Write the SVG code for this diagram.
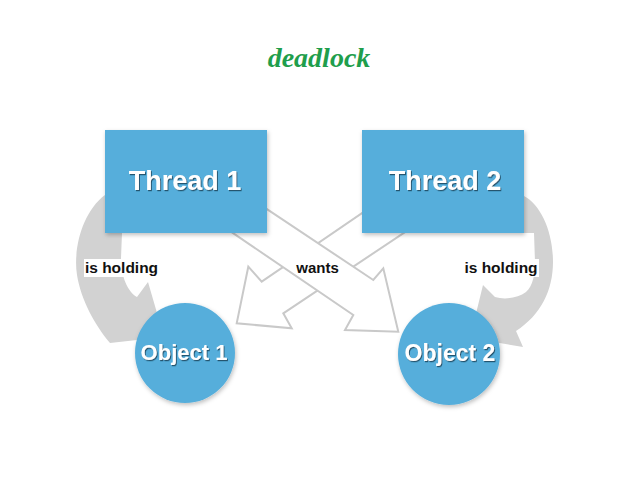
<svg xmlns="http://www.w3.org/2000/svg" width="638" height="479" viewBox="0 0 638 479">
  <style>
    .box { fill: #56AEDB; }
    .obj { fill: #56AEDB; }
    .ntext { font-family: "Liberation Sans", Arial, sans-serif; font-weight: bold; fill: #ffffff; text-anchor: middle; }
    .hold { fill: #D2D2D2; }
    .want { fill: #ffffff; stroke: #C9C9C9; stroke-width: 2; stroke-linejoin: miter; }
    .lbl { font-family: "Liberation Sans", Arial, sans-serif; font-weight: bold; fill: #111111; font-size: 15.5px; text-anchor: middle; }
    .title { font-family: "Liberation Serif", "Times New Roman", serif; font-style: italic; font-weight: bold; font-size: 28px; fill: #1F9E4C; text-anchor: middle; }
  </style>
  <defs>
    <filter id="shadow" x="-20%" y="-20%" width="140%" height="140%">
      <feDropShadow dx="1" dy="2" stdDeviation="2" flood-color="#000000" flood-opacity="0.25"/>
    </filter>
    <filter id="tshadow" x="-10%" y="-20%" width="120%" height="150%">
      <feDropShadow dx="1" dy="1.2" stdDeviation="0.6" flood-color="#1d3e55" flood-opacity="0.8"/>
    </filter>
  </defs>
  <rect width="638" height="479" fill="#ffffff"/>

  <text class="title" x="319" y="67">deadlock</text>

  <g id="connectors">
    <!-- is holding (left) -->
    <path id="hold1" class="hold" d="M 105,195 C 82,212 73,250 77,275 C 81,300 95,325 110,343 L 164,337 L 148,282 L 137,297 C 128,292 121,277 121,258 L 122,233 L 105,233 Z"/>
    <!-- is holding (right) -->
    <path id="hold2" class="hold" d="M 524,196 C 541,205 553,232 553,262 C 553,290 541,315 516,331 L 523,347 L 470,338 L 483,285 L 495,297 C 505,300 518,298 526,292 C 533,286 535,274 535,262 L 534,233 L 524,233 Z"/>
    <!-- Thread 2 wants Object 1 -->
    <polygon id="want2" class="want" points="400,187.1 261.7,281.7 248.3,266.7 236.7,323.3 291.7,328.3 283.3,313.3 440,208.8"/>
    <!-- Thread 1 wants Object 2 -->
    <polygon id="want1" class="want" points="230,184.5 373.3,280 383.3,268.3 398.3,331.7 345,330 353.3,315 200,210.6"/>
    <rect x="84" y="259" width="76" height="18" fill="#ffffff"/>
    <text class="lbl" x="121.5" y="273">is holding</text>
    <rect x="463" y="259" width="76" height="18" fill="#ffffff"/>
    <text class="lbl" x="501" y="273">is holding</text>
    <text class="lbl" x="317.5" y="273" style="font-size:15px">wants</text>
  </g>

  <g id="node-thread1">
    <rect class="box" x="105" y="130" width="162" height="103" filter="url(#shadow)"/>
    <text class="ntext" x="185" y="190" font-size="27" filter="url(#tshadow)">Thread 1</text>
  </g>
  <g id="node-thread2">
    <rect class="box" x="362" y="130" width="162" height="103" filter="url(#shadow)"/>
    <text class="ntext" x="445" y="190" font-size="27" filter="url(#tshadow)">Thread 2</text>
  </g>
  <g id="node-object1">
    <circle class="obj" cx="185" cy="353" r="50" filter="url(#shadow)"/>
    <text class="ntext" x="184" y="360" font-size="22" filter="url(#tshadow)">Object 1</text>
  </g>
  <g id="node-object2">
    <circle class="obj" cx="449" cy="354" r="51" filter="url(#shadow)"/>
    <text class="ntext" x="450" y="361" font-size="23" filter="url(#tshadow)">Object 2</text>
  </g>
</svg>
